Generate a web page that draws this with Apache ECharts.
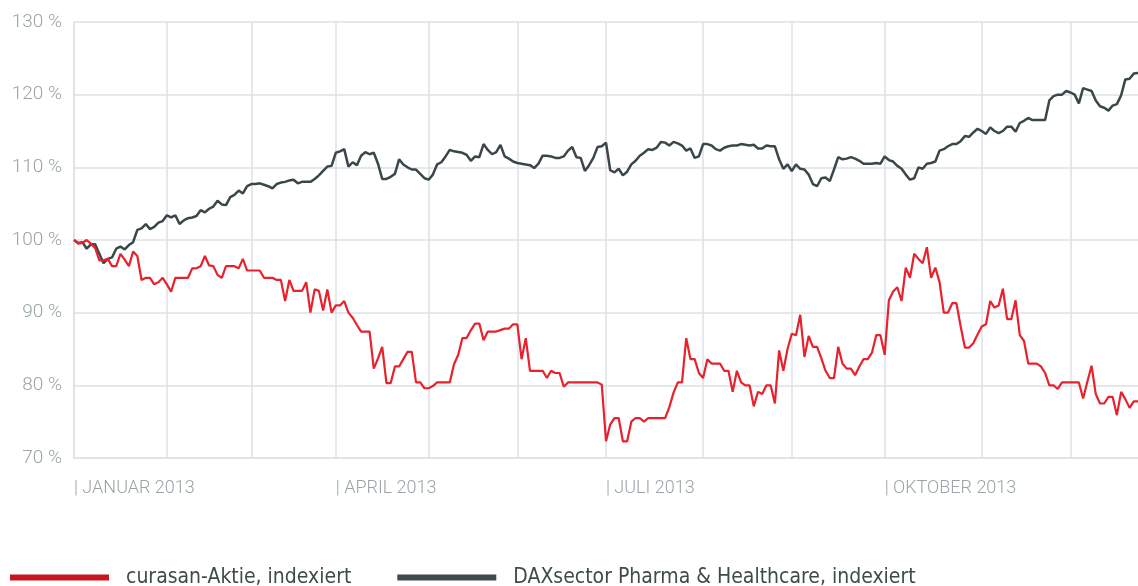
<!DOCTYPE html>
<html>
<head>
<meta charset="utf-8">
<script src="https://cdn.jsdelivr.net/npm/echarts@6/dist/echarts.min.js"></script>
<style>
  html, body { margin: 0; padding: 0; background: #fff; }
  #chart { width: 1138px; height: 586px; }
</style>
</head>
<body>
<div id="chart"></div>
<script>
// index values per trading day, 2013 (start = 100 %)
var curasan = [
    100, 99.5, 99.6, 100, 99.5, 98.9, 97.2, 97.2, 97.4, 96.4,
    96.4, 98.1, 97.3, 96.4, 98.4, 97.8, 94.5, 94.8, 94.8, 93.9,
    94.2, 94.8, 93.9, 92.9, 94.8, 94.8, 94.8, 94.8, 96.1, 96.1,
    96.4, 97.8, 96.5, 96.4, 95.2, 94.8, 96.4, 96.4, 96.4, 96.1,
    97.4, 95.8, 95.8, 95.8, 95.8, 94.8, 94.8, 94.8, 94.5, 94.5,
    91.6, 94.5, 93, 93, 93, 94.2, 90, 93.2, 93, 90.3,
    93.2, 90, 91, 91, 91.6, 90, 89.3, 88.3, 87.4, 87.4,
    87.4, 82.3, 83.7, 85.3, 80.3, 80.3, 82.6, 82.6, 83.6, 84.6,
    84.6, 80.4, 80.4, 79.6, 79.6, 79.9, 80.4, 80.4, 80.4, 80.4,
    82.9, 84.2, 86.5, 86.5, 87.6, 88.5, 88.5, 86.2, 87.4, 87.4,
    87.4, 87.6, 87.8, 87.8, 88.4, 88.4, 83.6, 86.5, 82, 82,
    82, 82, 81, 82, 81.7, 81.7, 79.8, 80.4, 80.4, 80.4,
    80.4, 80.4, 80.4, 80.4, 80.4, 80.1, 72.3, 74.6, 75.5, 75.5,
    72.3, 72.3, 75, 75.5, 75.5, 75, 75.5, 75.5, 75.5, 75.5,
    75.5, 77, 79, 80.4, 80.4, 86.5, 83.6, 83.6, 81.7, 81,
    83.6, 83, 83, 83, 82, 82, 79.1, 82, 80.4, 80,
    80, 77.1, 79.1, 78.8, 80, 80, 77.5, 84.8, 82, 85,
    87.1, 86.9, 89.7, 83.9, 86.8, 85.3, 85.3, 83.7, 82, 81,
    81, 85.3, 83, 82.3, 82.3, 81.4, 82.6, 83.6, 83.6, 84.5,
    86.9, 86.9, 84.2, 91.7, 92.9, 93.5, 91.6, 96.2, 94.8, 98.1,
    97.4, 96.8, 99, 94.8, 96.2, 94.2, 90, 90, 91.3, 91.3,
    88.1, 85.2, 85.2, 85.8, 87, 88.1, 88.4, 91.6, 90.7, 91,
    93.3, 89.1, 89.1, 91.7, 86.9, 86.1, 83, 83, 83, 82.6,
    81.7, 80, 80, 79.5, 80.4, 80.4, 80.4, 80.4, 80.4, 78.2,
    80.5, 82.7, 78.8, 77.5, 77.5, 78.4, 78.4, 75.9, 79.1, 78.1,
    76.9, 77.8, 77.8
];

var daxPharma = [
    100, 99.6, 99.7, 98.8, 99.4, 99.4, 98.1, 96.8, 97.4, 97.6,
    98.8, 99.1, 98.7, 99.3, 99.7, 101.4, 101.6, 102.2, 101.5, 101.8,
    102.4, 102.6, 103.4, 103.1, 103.4, 102.2, 102.7, 103, 103.1, 103.3,
    104.1, 103.8, 104.3, 104.6, 105.4, 104.9, 104.8, 105.9, 106.2, 106.8,
    106.4, 107.4, 107.7, 107.7, 107.8, 107.6, 107.4, 107.1, 107.7, 107.9,
    108, 108.2, 108.3, 107.8, 108, 108, 108, 108.4, 108.9, 109.5,
    110.1, 110.2, 112, 112.2, 112.5, 110.1, 110.7, 110.3, 111.6, 112.1,
    111.8, 112, 110.5, 108.4, 108.4, 108.7, 109.1, 111.1, 110.4, 110,
    109.7, 109.7, 109.1, 108.5, 108.3, 109, 110.4, 110.7, 111.5, 112.4,
    112.2, 112.1, 112, 111.7, 110.9, 111.5, 111.4, 113.2, 112.4, 111.8,
    112.1, 113.1, 111.5, 111.2, 110.8, 110.6, 110.5, 110.4, 110.3, 109.9,
    110.5, 111.6, 111.6, 111.5, 111.3, 111.3, 111.5, 112.3, 112.8, 111.4,
    111.3, 109.5, 110.3, 111.3, 112.8, 112.9, 113.4, 109.6, 109.3, 109.8,
    108.9, 109.4, 110.4, 110.9, 111.6, 112, 112.5, 112.4, 112.7, 113.5,
    113.4, 113, 113.5, 113.3, 113, 112.3, 112.6, 111.3, 111.5, 113.2,
    113.2, 113, 112.5, 112.3, 112.7, 112.9, 113, 113, 113.2, 113.1,
    113, 113.1, 112.6, 112.6, 113, 112.9, 112.9, 111.1, 109.8, 110.4,
    109.5, 110.4, 109.8, 109.7, 109, 107.7, 107.4, 108.5, 108.6, 108.1,
    109.7, 111.4, 111.1, 111.2, 111.4, 111.2, 110.9, 110.5, 110.5, 110.5,
    110.6, 110.5, 111.5, 111, 110.8, 110.2, 109.8, 109, 108.3, 108.5,
    110, 109.8, 110.5, 110.6, 110.8, 112.3, 112.5, 112.9, 113.2, 113.2,
    113.6, 114.3, 114.2, 114.8, 115.3, 115, 114.6, 115.5, 115, 114.7,
    115, 115.6, 115.6, 114.9, 116.1, 116.4, 116.8, 116.5, 116.5, 116.5,
    116.5, 119.2, 119.8, 120, 120, 120.5, 120.3, 120, 118.8, 120.9,
    120.7, 120.5, 119.2, 118.4, 118.2, 117.8, 118.5, 118.7, 119.9, 122.1,
    122.2, 122.9, 123
];

// trading day index where each month starts (vertical grid lines)
var monthStarts = [0, 22, 42, 62, 84, 105, 126, 149, 170, 192, 215, 236];
var quarterLabels = { 0: '| JANUAR 2013', 62: '| APRIL 2013', 126: '| JULI 2013', 192: '| OKTOBER 2013' };
var days = curasan.map(function(v, i) { return String(i); });

var gridColor = '#dde2e4';
var labelColor = '#9aa4a7';

var chart = echarts.init(document.getElementById('chart'));
chart.setOption({
    animation: false,
    grid: { left: 74, right: 0, top: 22, bottom: 128, containLabel: false },
    legend: {
        left: 5,
        top: 562,
        icon: 'rect',
        itemWidth: 99,
        itemHeight: 6,
        itemGap: 46,
        textStyle: {
            fontFamily: '"Liberation Sans Narrow", "DejaVu Sans Condensed", sans-serif',
            fontSize: 21,
            color: '#3e4a4c',
            padding: [0, 0, 0, 12]
        },
        data: [
            { name: 'curasan-Aktie, indexiert', itemStyle: { color: '#c8161e' } },
            { name: 'DAXsector Pharma & Healthcare, indexiert', itemStyle: { color: '#3e4a4c' } }
        ]
    },
    xAxis: {
        type: 'category',
        data: days,
        boundaryGap: false,
        axisLine: { show: true, lineStyle: { color: gridColor, width: 1.5 } },
        axisTick: { show: false },
        axisLabel: {
            interval: function(i) { return quarterLabels[i] !== undefined; },
            formatter: function(v, i) { return quarterLabels[i] || ''; },
            align: 'left',
            margin: 21,
            color: labelColor,
            fontFamily: 'Roboto, sans-serif',
            fontWeight: 300,
            fontSize: 18
        },
        splitLine: {
            show: true,
            interval: function(i) { return monthStarts.indexOf(i) >= 0; },
            lineStyle: { color: gridColor, width: 1.5 }
        }
    },
    yAxis: {
        type: 'value',
        min: 70,
        max: 130,
        interval: 10,
        axisLine: { show: true, lineStyle: { color: gridColor, width: 1.5 } },
        axisTick: { show: false },
        axisLabel: {
            formatter: '{value} %',
            margin: 12,
            color: labelColor,
            fontFamily: 'Roboto, sans-serif',
            fontWeight: 300,
            fontSize: 19
        },
        splitLine: { show: true, lineStyle: { color: gridColor, width: 1.5 } }
    },
    series: [
        {
            name: 'curasan-Aktie, indexiert',
            type: 'line',
            data: curasan,
            showSymbol: false,
            lineStyle: { color: '#e8212c', width: 2.2 },
            itemStyle: { color: '#e8212c' },
            z: 3
        },
        {
            name: 'DAXsector Pharma & Healthcare, indexiert',
            type: 'line',
            data: daxPharma,
            showSymbol: false,
            lineStyle: { color: '#3a4749', width: 2.5 },
            itemStyle: { color: '#3a4749' },
            z: 2
        }
    ]
});
</script>
</body>
</html>
